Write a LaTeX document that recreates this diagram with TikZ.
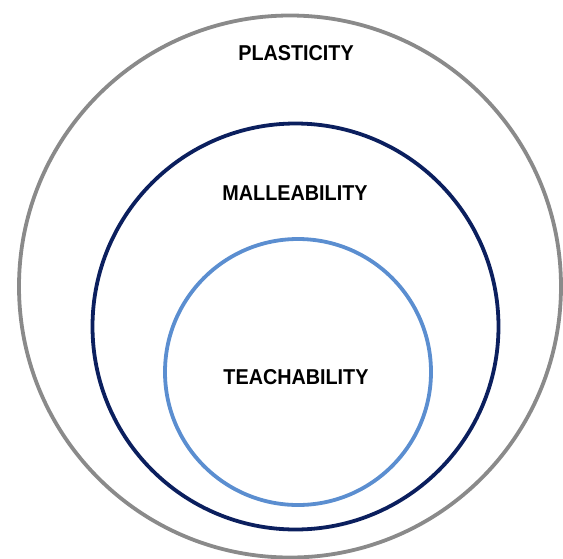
\documentclass[tikz,border=0pt]{standalone}
\usepackage{fontspec}
\setmainfont{Liberation Sans}[FakeStretch=0.92]
\usepackage{tikz}

\definecolor{ringgray}{HTML}{8A8A8A}
\definecolor{ringnavy}{HTML}{0B1F5E}
\definecolor{ringblue}{HTML}{5B8ED0}

\begin{document}
\begin{tikzpicture}[x=1pt,y=-1pt]
                \tikzstyle{ring}=[circle,draw,inner sep=0pt,line width=3.8pt]
                \tikzstyle{word}=[inner sep=0pt,font=\fontsize{21.5}{25}\selectfont\bfseries]
                \useasboundingbox (0,0) rectangle (563,558);
                \foreach \num/\x/\y/\r/\col in {P/290/286.5/271/ringgray, M/295.5/326.5/203/ringnavy, T/298/372/133/ringblue}
                        \node[ring,draw=\col,minimum size=2*\r pt] (C-\num) at (\x,\y) {};

                    \node[word] (L-P) at (296,53) {PLASTICITY};
                    \node[word] (L-M) at (295,193) {MALLEABILITY};
                    \node[word] (L-T) at (296,377) {TEACHABILITY};

            \end{tikzpicture}
\end{document}
